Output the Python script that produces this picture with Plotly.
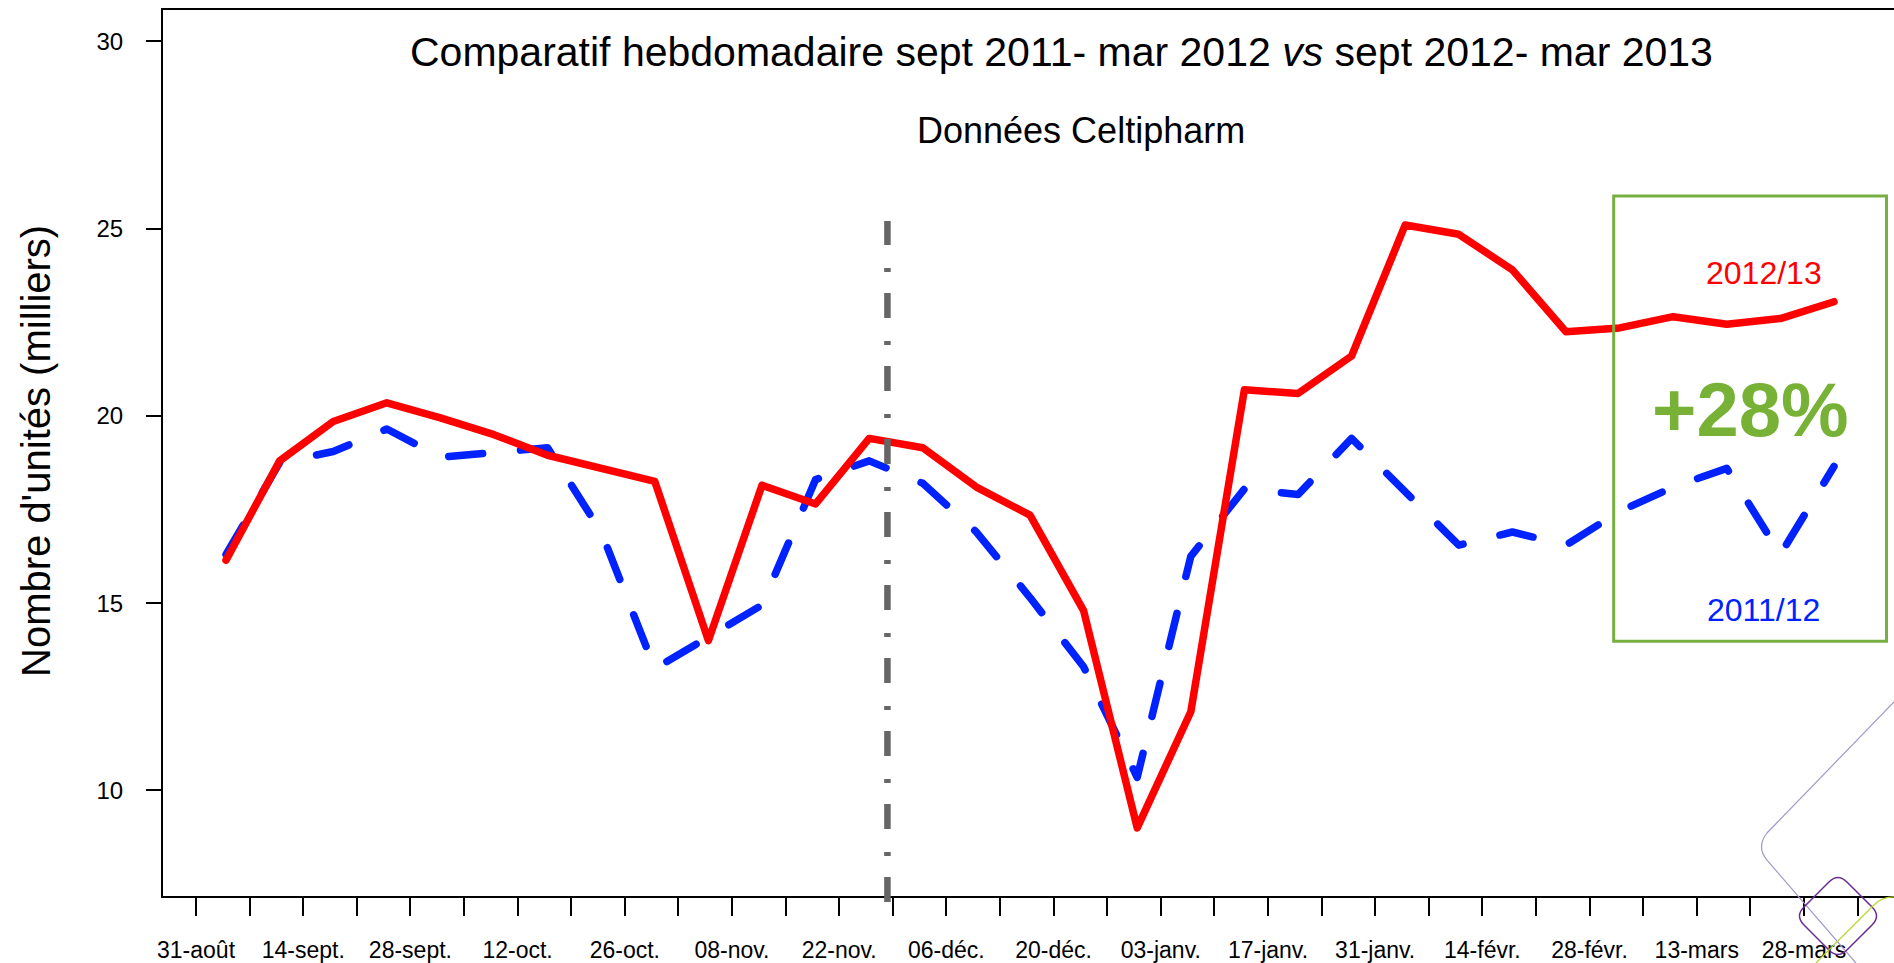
import plotly.graph_objects as go

# Weekly sales, thousands of units (Celtipharm)
labels = ["31-août", "14-sept.", "28-sept.", "12-oct.", "26-oct.", "08-nov.",
          "22-nov.", "06-déc.", "20-déc.", "03-janv.", "17-janv.", "31-janv.",
          "14-févr.", "28-févr.", "13-mars", "28-mars"]

ventes_2012_13 = [16.15, 18.8, 19.85, 20.35, 19.95, 19.5, 18.95, 18.6, 18.25,
                  14.0, 18.15, 17.65, 19.4, 19.15, 18.1, 17.35, 14.8, 9.0,
                  12.1, 20.7, 20.6, 21.6, 25.1, 24.85, 23.9, 22.25, 22.35,
                  22.65, 22.45, 22.6, 23.05]

ventes_2011_12 = [16.3, 18.75, 19.05, 19.65, 18.9, 19.0, 19.15, 16.9, 13.25,
                  14.1, 14.95, 18.3, 18.8, 18.2, 16.9, 15.15, 13.3, 10.35,
                  16.25, 18.05, 17.9, 19.4, 18.0, 16.55, 16.9, 16.55, 17.45,
                  18.1, 18.6, 16.3, 18.65]

# points sit roughly half a week to the right of the tick marks
semaines = [i + 0.56 for i in range(len(ventes_2012_13))]

W, H = 1894, 963
ML, MR, MT, MB = 163, 0, 10, 67
FONT = "Liberation Sans, Arial, sans-serif"


def paper(x, y):
    """ pixel position -> paper coordinates """
    return (x - ML) / (W - ML - MR), (H - MB - y) / (H - MT - MB)


def path(points):
    out = []
    for cmd, *pts in points:
        coords = " ".join("%.4f,%.4f" % paper(*p) for p in pts)
        out.append(cmd + coords)
    return " ".join(out)


fig = go.Figure()
fig.add_trace(go.Scatter(x=semaines, y=ventes_2011_12, mode="lines",
                         name="2011/12",
                         line=dict(color="#0022ff", width=7.5, dash="34px,38px")))
fig.add_trace(go.Scatter(x=semaines, y=ventes_2012_13, mode="lines",
                         name="2012/13",
                         line=dict(color="#ff0000", width=7.5)))

tickvals = list(range(32))
ticktext = [labels[k // 2] if k % 2 == 0 else "" for k in tickvals]

fig.update_layout(
    width=W, height=H,
    margin=dict(l=ML, r=MR, t=MT, b=MB),
    plot_bgcolor="white", paper_bgcolor="white",
    showlegend=False,
    font=dict(family=FONT, color="black"),
    xaxis=dict(range=[-0.616, 31.68], tickvals=tickvals, ticktext=ticktext,
               ticks="outside", ticklen=18, tickwidth=2, tickcolor="black",
               showline=True, linewidth=2, linecolor="black", mirror=True,
               showgrid=False, zeroline=False, tickangle=0,
               ticklabelstandoff=14,
               tickfont=dict(size=23, family=FONT)),
    yaxis=dict(range=[7.18, 30.84], tickvals=[10, 15, 20, 25, 30],
               ticks="outside", ticklen=15, tickwidth=2, tickcolor="black",
               showline=True, linewidth=2, linecolor="black",
               showgrid=False, zeroline=False, ticklabelstandoff=18,
               tickfont=dict(size=24, family=FONT)),
)

# dash-dot separator between the two halves of the season
fig.add_shape(type="line", xref="x", yref="paper", x0=12.9, x1=12.9,
              y0=paper(0, 902)[1], y1=paper(0, 221)[1],
              line=dict(color="#666666", width=6.5, dash="25px,21px,4px,23px"))

# green highlight box
fig.add_shape(type="rect", xref="x", yref="y", x0=26.45, x1=31.54,
              y0=13.98, y1=25.87, line=dict(color="#77b041", width=3))

# slide decorations in the bottom right corner
fig.add_shape(type="path", xref="paper", yref="paper",
              path=path([("M", (1894, 702)), ("L", (1767, 833)),
                         ("Q", (1756, 847), (1767, 860)),
                         ("L", (1856, 963))]),
              line=dict(color="#a496cc", width=1.2))
fig.add_shape(type="path", xref="paper", yref="paper",
              path=path([("M", (1829, 882)), ("Q", (1838, 873), (1847, 882)),
                         ("L", (1872, 907)), ("Q", (1881, 916), (1872, 925)),
                         ("L", (1847, 950)), ("Q", (1838, 959), (1829, 950)),
                         ("L", (1804, 925)), ("Q", (1795, 916), (1804, 907)),
                         ("Z",)]),
              line=dict(color="#6a2c91", width=1.5))
fig.add_shape(type="path", xref="paper", yref="paper",
              path=path([("M", (1816, 963)), ("L", (1874, 905)),
                         ("Q", (1882, 897), (1894, 897))]),
              line=dict(color="#b8d432", width=1.2))

tx, ty = paper(1061, 52)
sx, sy = paper(1081, 130)
yx, yy = paper(36, 451)
fig.add_annotation(text="Comparatif hebdomadaire sept 2011- mar 2012 <i>vs</i> "
                        "sept 2012- mar 2013",
                   xref="paper", yref="paper", x=tx, y=ty, showarrow=False,
                   xanchor="center", yanchor="middle",
                   font=dict(size=41, family=FONT, color="black"))
fig.add_annotation(text="Données Celtipharm", xref="paper", yref="paper",
                   x=sx, y=sy, showarrow=False, xanchor="center",
                   yanchor="middle",
                   font=dict(size=36, family=FONT, color="black"))
fig.add_annotation(text="Nombre d'unités (milliers)", xref="paper",
                   yref="paper", x=yx, y=yy, showarrow=False, textangle=-90,
                   xanchor="center", yanchor="middle",
                   font=dict(size=40, family=FONT, color="black"))
fig.add_annotation(text="2012/13", x=29.25, y=23.81, showarrow=False,
                   font=dict(size=32, family=FONT, color="#ff0000"))
fig.add_annotation(text="2011/12", x=29.25, y=14.83, showarrow=False,
                   font=dict(size=32, family=FONT, color="#0022ff"))
fig.add_annotation(text="<b>+28%</b>", x=29.01, y=20.16, showarrow=False,
                   font=dict(size=76, family=FONT, color="#77b135"))

# the page body has an 8px default margin; drop it so the chart fills the
# window, and give the series lines rounded ends like the original
post = ("document.body.style.margin='0';"
        "document.body.style.overflow='hidden';"
        "document.querySelectorAll('.scatterlayer path.js-line')"
        ".forEach(function(p){p.style.strokeLinecap='round';"
        "p.style.strokeLinejoin='round';});")
fig.write_html("out.html", post_script=post,
               config={"displayModeBar": False})
